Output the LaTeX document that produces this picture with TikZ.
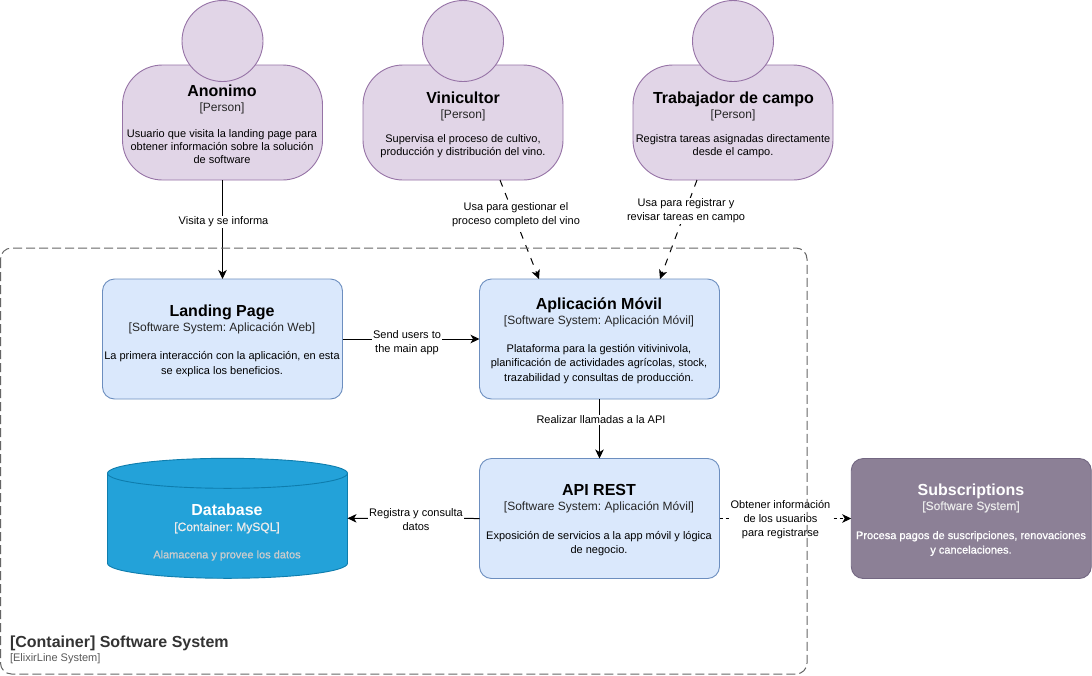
\documentclass[tikz,border=0pt]{standalone}
\usepackage{fontspec}
\setmainfont{Liberation Sans}
\newfontfamily\fakeb[FakeBold=1]{Liberation Sans}
\newfontfamily\fakec[FakeBold=0.5]{Liberation Sans}
\usetikzlibrary{arrows.meta}
\definecolor{pfill}{HTML}{E1D5E7}
\definecolor{pline}{HTML}{9673A6}
\definecolor{bfill}{HTML}{DAE8FC}
\definecolor{bline}{HTML}{6C8EBF}
\definecolor{dfill}{HTML}{23A2D9}
\definecolor{dline}{HTML}{0E7DAD}
\definecolor{sfill}{HTML}{8C8096}
\definecolor{sline}{HTML}{736782}
\newcommand{\ttl}{\frenchspacing\bfseries\fontsize{16}{18}\selectfont}
\newcommand{\subt}{\frenchspacing\fontsize{12}{14}\selectfont}
\newcommand{\dsc}{\frenchspacing\fontsize{11}{14.5}\selectfont}
\newcommand{\dscp}{\frenchspacing\fontsize{11}{13}\selectfont}
\newcommand{\dscl}{\frenchspacing\fontsize{11}{14}\selectfont}
\tikzset{
  x=1pt,y=-1pt,
  every node/.style={inner sep=0pt,outer sep=0pt,align=center,font=\dsc,text=black},
  pbody/.style={draw=pline,fill=pfill,line width=0.9pt,rounded corners=40pt,minimum width=200pt,minimum height=115pt},
  phead/.style={circle,draw=pline,fill=pfill,line width=0.9pt,minimum size=81pt},
  pdesc/.style={font=\dscp},
  sysbox/.style={draw=bline,fill=bfill,line width=0.9pt,rounded corners=12pt,minimum width=240pt,minimum height=120pt},
  subsbox/.style={draw=sline,fill=sfill,line width=0.9pt,rounded corners=12pt,minimum width=240pt,minimum height=120pt},
  lbl/.style={fill=white,inner xsep=1pt,inner ysep=0.5pt,font=\dscl},
  conn/.style={draw=black,line width=1pt,-{Stealth[length=9pt,width=8.5pt,inset=2.5pt]}},
  dconn/.style={conn,dash pattern=on 7pt off 7pt},
  sconn/.style={conn,dash pattern=on 3pt off 3pt},
  title/.style={font=\ttl,anchor=base},
  subtitle/.style={font=\subt,text=black!85,anchor=base},
  wtitle/.style={font=\ttl,text=white,anchor=base},
  dbshape/.style={draw=dline,fill=dfill,line width=0.9pt},
}
\begin{document}
\begin{tikzpicture}
\useasboundingbox (0,0) rectangle (1092,675);
\fill[white] (0,0) rectangle (1092,675);

% persons
\node[pbody] (anonB) at (222.5,122.5) {};
\node[phead] (anonH) at (222.5,41) {};
\node[pbody] (vinB) at (463,122.5) {};
\node[phead] (vinH) at (463,41) {};
\node[pbody] (traB) at (733,122.5) {};
\node[phead] (traH) at (733,41) {};

\node[title] (anonT) at (222,96) {Anonimo};
\node[subtitle] (anonS) at (222,111) {[Person]};
\node[pdesc] (anonD) at (222,146.5) {Usuario que visita la landing page para\\obtener información sobre la solución\\de software};

\node[title] (vinT) at (463,103) {Vinicultor};
\node[subtitle] (vinS) at (463,118) {[Person]};
\node[pdesc] (vinD) at (463,146.5) {Supervisa el proceso de cultivo,\\producción y distribución del vino.};

\node[title] (traT) at (733.5,103) {Trabajador de campo};
\node[subtitle] (traS) at (733,118) {[Person]};
\node[pdesc] (traD) at (733,146.5) {Registra tareas asignadas directamente\\desde el campo.};

% systems
\node[sysbox] (land) at (222.5,339) {};
\node[title] (landT) at (222,316) {Landing Page};
\node[subtitle] (landS) at (222,331) {[Software System: Aplicación Web]};
\node (landD) at (222,364) {La primera interacción con la aplicación, en esta\\se explica los beneficios.};

\node[sysbox] (app) at (599.5,339) {};
\node[title] (appT) at (599,309) {Aplicación Móvil};
\node[subtitle] (appS) at (599,324) {[Software System: Aplicación Móvil]};
\node (appD) at (599,364) {Plataforma para la gestión vitivinivola,\\planificación de actividades agrícolas, stock,\\trazabilidad y consultas de producción.};

\node[sysbox] (api) at (599.5,518.5) {};
\node[title] (apiT) at (599,495) {API REST};
\node[subtitle] (apiS) at (599,510) {[Software System: Aplicación Móvil]};
\node (apiD) at (599,543.5) {Exposición de servicios a la app móvil y lógica\\de negocio.};

\node[subsbox] (subs) at (971.25,518.5) {};
\node[wtitle] (subsT) at (971,495) {Subscriptions};
\node[subtitle,font=\subt\fakec,text=white!92!black] (subsS) at (971,510) {[Software System]};
\node[text=white,font=\dsc\fakeb] (subsD) at (971,543.5) {Procesa pagos de suscripciones, renovaciones\\y cancelaciones.};

% database
\node[minimum width=240pt,minimum height=120pt] (db) at (227.5,518.3) {};
\path[dbshape] (107.5,473.3) -- (107.5,563.3) .. controls (107.5,571.6) and (161.2,578.3) .. (227.5,578.3) .. controls (293.8,578.3) and (347.5,571.6) .. (347.5,563.3) -- (347.5,473.3) .. controls (347.5,465) and (293.8,458.3) .. (227.5,458.3) .. controls (161.2,458.3) and (107.5,465) .. (107.5,473.3) -- cycle;
\path[dbshape,fill=none] (107.5,473.3) .. controls (107.5,481.6) and (161.2,488.3) .. (227.5,488.3) .. controls (293.8,488.3) and (347.5,481.6) .. (347.5,473.3);
\node[wtitle] (dbT) at (227,515) {Database};
\node[subtitle,font=\subt\fakeb,text=white!92!black] (dbS) at (227,531) {[Container: MySQL]};
\node[font=\dsc\fakeb,text=white!80!black] (dbD) at (227,555.5) {Alamacena y provee los datos};

% connectors
\coordinate (vinOut) at (500,180);
\coordinate (vinIn) at (539,279);
\coordinate (traOut) at (697,180);
\coordinate (traIn) at (660,279);

\draw[conn] (anonB.south) -- (land.north);
\draw[dconn] (vinOut) -- (vinIn);
\draw[dconn] (traOut) -- (traIn);
\draw[conn] (land.east) -- (app.west);
\draw[conn] (app.south) -- (api.north);
\draw[conn] (api.west) -- (db.east);
\draw[sconn] (api.east) -- (subs.west);

\node[lbl] (l1) at (223.5,222) {Visita y se informa};
\node[lbl] (l2) at (516,215) {Usa para gestionar el\\proceso completo del vino};
\node[lbl] (l3) at (686,211) {Usa para registrar y\\revisar tareas en campo};
\node[lbl] (l4) at (407,343) {Send users to\\the main app};
\node[lbl] (l5) at (601,420) {Realizar llamadas a la API};
\node[lbl] (l6) at (416,519.5) {Registra y consulta\\datos};
\node[lbl] (l7) at (780.5,520) {Obtener información\\de los usuarios\\para registrarse};

% container
\draw[draw=black!60,line width=1pt,dash pattern=on 9pt off 4pt,rounded corners=11pt] (0.5,248) rectangle (807,674);
\node[anchor=base west,font=\frenchspacing\bfseries\fontsize{16}{18}\selectfont,text=black!80] (contT) at (10,647) {[Container] Software System};
\node[anchor=base west,font=\frenchspacing\fontsize{11}{12}\selectfont,text=black!65] (contS) at (10,661) {[ElixirLine System]};
\end{tikzpicture}
\end{document}
